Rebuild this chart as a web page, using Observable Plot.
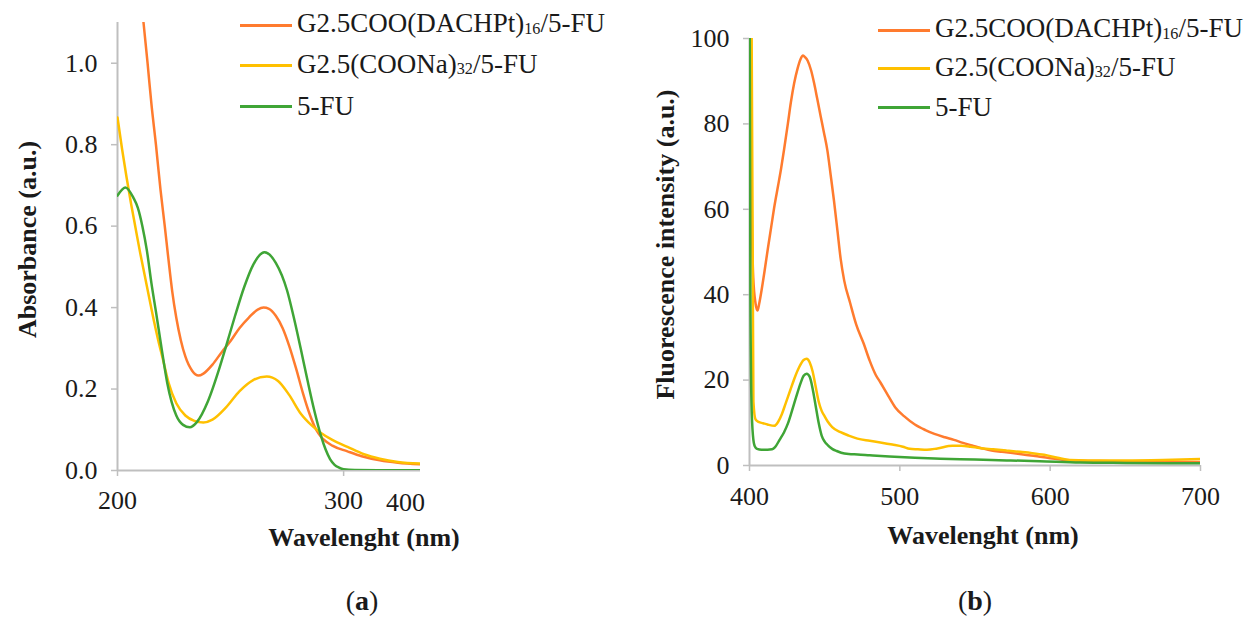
<!DOCTYPE html>
<html><head><meta charset="utf-8">
<script src="https://cdn.jsdelivr.net/npm/d3@7"></script>
<script src="https://cdn.jsdelivr.net/npm/@observablehq/plot@0.6"></script>
<style>
html,body{margin:0;padding:0;background:#fff;}
#fig{position:relative;width:1257px;height:621px;overflow:hidden;font-family:"Liberation Serif","Times New Roman",Times,serif;color:#1a1a1a;}
#fig svg{position:absolute;top:0;overflow:visible;}
.legend{position:absolute;font-size:27px;z-index:2;}
.legend .row{position:absolute;left:0;display:flex;align-items:center;white-space:nowrap;height:30px;line-height:30px;}
.legend .sw{width:52px;height:3px;margin-right:5px;}
.legend .sub{font-size:0.6em;position:relative;top:0.12em;}
.cap{position:absolute;font-size:28px;transform:translate(-50%,-50%);z-index:2;}
</style></head><body><div id="fig"></div>
<script>
// ---------- series ----------
const seriesNames = ["G2.5COO(DACHPt)16/5-FU", "G2.5(COONa)32/5-FU", "5-FU"];
const legendMain = ["G2.5COO(DACHPt)", "G2.5(COONa)", "5-FU"];
const legendSub = ["16", "32", ""];
const legendTail = ["/5-FU", "/5-FU", ""];
const seriesColors = ["#FF7B2E", "#FFC000", "#3FA536"];

// ---------- panel (a): UV-Vis absorbance ----------
const absWlPt = [209, 211.5, 213.3, 215, 217, 219, 220.9, 222.5, 224.2, 226, 228, 230, 233, 235.8, 238, 242, 246, 250, 254, 258, 262, 264.6, 267, 270, 273, 276, 279, 282, 285, 287, 289, 291, 295, 301.7, 308, 316, 324, 334];
const absPt   = [1.25, 1.1, 1.0, 0.9, 0.8, 0.69, 0.6, 0.52, 0.44, 0.375, 0.32, 0.28, 0.245, 0.233, 0.238, 0.26, 0.29, 0.318, 0.35, 0.375, 0.395, 0.40, 0.397, 0.38, 0.35, 0.305, 0.25, 0.19, 0.138, 0.11, 0.09, 0.077, 0.061, 0.047, 0.035, 0.025, 0.019, 0.015];
const absWlNa = [200, 202, 204, 206, 208, 210, 212, 214, 216, 218, 220, 222.6, 226, 230, 234, 238, 242, 248, 254, 260, 266, 271, 276, 281, 286, 290, 295, 301.7, 309, 316, 324, 334];
const absNa   = [0.867, 0.79, 0.72, 0.655, 0.595, 0.535, 0.48, 0.425, 0.37, 0.32, 0.275, 0.215, 0.165, 0.135, 0.122, 0.118, 0.125, 0.155, 0.195, 0.222, 0.231, 0.22, 0.185, 0.14, 0.11, 0.092, 0.075, 0.058, 0.04, 0.029, 0.021, 0.017];
const absWlFU = [200, 203.5, 207, 209, 211, 213, 215, 217, 219.5, 222, 226, 229, 232, 235, 240, 245, 248, 252, 256, 260, 265, 270, 275, 278, 281, 284, 287, 290, 292, 294, 296, 298, 300, 305, 315, 334];
const absFU   = [0.675, 0.695, 0.67, 0.645, 0.60, 0.54, 0.46, 0.39, 0.30, 0.215, 0.135, 0.112, 0.106, 0.118, 0.17, 0.25, 0.305, 0.38, 0.45, 0.505, 0.536, 0.51, 0.442, 0.375, 0.30, 0.222, 0.148, 0.085, 0.052, 0.028, 0.014, 0.007, 0.003, 0.001, 0.0005, 0.0005];
const absXTicks = [200, 300];
const absXEndLabel = ["400"];
const absYTicks = [0, 0.2, 0.4, 0.6, 0.8, 1.0];
const absXTitle = "Wavelenght (nm)";
const absYTitle = "Absorbance (a.u.)";

// ---------- panel (b): fluorescence ----------
const flWlPt = [400.5, 401.5, 402.5, 404, 405.3, 406.5, 408, 410, 412.3, 414.5, 416.7, 419, 421, 423, 425.5, 427.5, 429.7, 432, 434, 435.6, 437, 438.7, 441, 443, 445, 447.4, 449.5, 451.8, 454, 456.2, 458.5, 460.6, 463, 467, 471, 476, 480, 484, 487, 492, 497, 503, 510, 517, 523, 530, 536, 542, 548, 555, 561, 568, 575, 582, 590, 600, 610, 620, 640, 660, 680, 700];
const flPt   = [110, 60, 44, 38, 36.3, 38, 41, 45.5, 51, 56, 61, 65.5, 69.5, 74, 80, 85, 89.5, 93, 95.2, 96, 95.6, 94.8, 92.5, 89.5, 86, 81.7, 78, 73.8, 68, 62, 55, 48.5, 43.3, 38, 33, 28.5, 24.5, 21.2, 19.5, 16.5, 13.6, 11.5, 9.6, 8.3, 7.4, 6.6, 6.0, 5.3, 4.7, 4.0, 3.5, 3.2, 2.9, 2.6, 2.2, 1.7, 1.3, 1.1, 1.0, 0.9, 0.85, 0.8];
const flWlNa = [401.3, 402, 402.6, 404, 406, 409, 412, 416.5, 419, 421.5, 424, 427, 430, 433, 436, 438, 440, 442, 444, 446, 448, 450, 452, 455, 460.6, 466, 471.8, 480, 487, 495, 502, 506.6, 512, 518, 525, 535, 541, 547, 553, 562, 571, 580, 588, 596, 605, 613, 625, 650, 675, 700];
const flNa   = [110, 60, 15, 10.8, 10.2, 9.9, 9.6, 9.3, 10.2, 12, 14.5, 17.5, 20.5, 23, 24.7, 25, 24.2, 22, 18.5, 15, 12.8, 11.5, 10.3, 9, 7.8, 7, 6.3, 5.8, 5.4, 4.9, 4.4, 3.9, 3.8, 3.7, 4.0, 4.6, 4.6, 4.4, 4.1, 3.8, 3.5, 3.2, 2.9, 2.5, 1.8, 1.3, 1.2, 1.2, 1.3, 1.5];
const flWlFU = [400.1, 400.6, 401.3, 402.3, 403.5, 405, 408, 412, 415, 417, 420, 423, 425.5, 428, 431, 434, 436, 438, 440, 442, 444, 446, 448, 450, 452, 455, 458, 461, 466, 472, 480, 493, 510, 527, 550, 571, 593, 620, 650, 700];
const flFU   = [110, 40, 15, 7, 4.5, 3.9, 3.7, 3.7, 3.8, 4.3, 6, 7.8, 9.8, 12.5, 16, 19.3, 21, 21.5, 20.8, 18, 14, 10, 7, 5.6, 4.8, 3.9, 3.4, 3.0, 2.7, 2.6, 2.4, 2.1, 1.8, 1.6, 1.4, 1.2, 1.0, 0.7, 0.6, 0.5];
const flXTicks = [400, 500, 600, 700];
const flYTicks = [0, 20, 40, 60, 80, 100];
const flXTitle = "Wavelenght (nm)";
const flYTitle = "Fluorescence intensity (a.u.)";

const captions = ["a", "b"];

// ---------- build ----------
const rows = (wl, v, s) => wl.map((w, i) => ({wl: w, v: v[i], s}));
const absRows = [...rows(absWlPt, absPt, seriesNames[0]), ...rows(absWlNa, absNa, seriesNames[1]), ...rows(absWlFU, absFU, seriesNames[2])];
const flRows = [...rows(flWlPt, flPt, seriesNames[0]), ...rows(flWlNa, flNa, seriesNames[1]), ...rows(flWlFU, flFU, seriesNames[2])];

const gray = "#BFBFBF";
const ink = "#1a1a1a";
const font = "'Liberation Serif', 'Times New Roman', Times, serif";
const colorOpt = {domain: seriesNames, range: seriesColors};
const tOpt = {textAnchor: "middle", lineAnchor: "middle", fontSize: 26};

const fig = document.getElementById("fig");

const plotA = Plot.plot({
  width: 640, height: 621,
  marginLeft: 117, marginRight: 220, marginTop: 22, marginBottom: 151,
  style: {fontFamily: font, fontSize: "26px", color: ink, background: "transparent"},
  x: {domain: [200, 334]},
  y: {domain: [0, 1.1]},
  color: colorOpt,
  marks: [
    Plot.axisY(absYTicks, {tickSize: 6, tickPadding: 14, tickFormat: d3.format(".1f"), stroke: gray, strokeWidth: 1.5, fontSize: 26, label: null}),
    Plot.axisX(absXTicks, {tickSize: 6, tickPadding: 14, stroke: gray, strokeWidth: 1.5, fontSize: 26, label: null}),
    Plot.text(absXEndLabel, {...tOpt, frameAnchor: "bottom-right", dx: -15, dy: 32}),
    Plot.ruleX([200], {stroke: gray, strokeWidth: 2}),
    Plot.ruleY([0], {stroke: gray, strokeWidth: 2}),
    Plot.line(absRows, {x: "wl", y: "v", z: "s", stroke: "s", strokeWidth: 2.5, curve: "monotone-x", clip: true}),
    Plot.text([absXTitle], {...tOpt, frameAnchor: "bottom", dx: 95, dy: 67, fontWeight: "bold"}),
    Plot.text([absYTitle], {...tOpt, frameAnchor: "left", rotate: -90, dx: -90, dy: -7, fontWeight: "bold"})
  ]
});
plotA.style.left = "0px";
fig.appendChild(plotA);

const plotB = Plot.plot({
  width: 617, height: 621,
  marginLeft: 109, marginRight: 57, marginTop: 38, marginBottom: 156,
  style: {fontFamily: font, fontSize: "26px", color: ink, background: "transparent"},
  x: {domain: [400, 700]},
  y: {domain: [0, 100]},
  color: colorOpt,
  marks: [
    Plot.axisY(flYTicks, {tickSize: 6, tickPadding: 14, stroke: gray, strokeWidth: 1.5, fontSize: 26, label: null}),
    Plot.axisX(flXTicks, {tickSize: 6, tickPadding: 15, stroke: gray, strokeWidth: 1.5, fontSize: 26, label: null}),
    Plot.ruleX([400], {stroke: gray, strokeWidth: 2}),
    Plot.ruleY([0], {stroke: gray, strokeWidth: 2}),
    Plot.line(flRows, {x: "wl", y: "v", z: "s", stroke: "s", strokeWidth: 2.5, curve: "monotone-x", clip: true}),
    Plot.text([flXTitle], {...tOpt, frameAnchor: "bottom", dx: 8, dy: 70, fontWeight: "bold"}),
    Plot.text([flYTitle], {...tOpt, frameAnchor: "left", rotate: -90, dx: -84, dy: -7.5, fontWeight: "bold"})
  ]
});
plotB.style.left = "640px";
fig.appendChild(plotB);

// ---------- legends ----------
function legend(left, top, spacing) {
  const box = document.createElement("div");
  box.className = "legend";
  box.style.left = left + "px";
  box.style.top = top + "px";
  seriesNames.forEach((name, i) => {
    const r = document.createElement("div");
    r.className = "row";
    r.style.top = (i * spacing - 15) + "px";
    const sw = document.createElement("span");
    sw.className = "sw";
    sw.style.background = seriesColors[i];
    r.appendChild(sw);
    const t = document.createElement("span");
    t.appendChild(document.createTextNode(legendMain[i]));
    if (legendSub[i]) {
      const sb = document.createElement("span");
      sb.className = "sub";
      sb.textContent = legendSub[i];
      t.appendChild(sb);
    }
    t.appendChild(document.createTextNode(legendTail[i]));
    r.appendChild(t);
    box.appendChild(r);
  });
  fig.appendChild(box);
}
legend(240, 25, 40.5);
legend(878, 30, 38.5);

// ---------- captions ----------
[[362, 601], [975, 601]].forEach(([cx, cy], i) => {
  const c = document.createElement("div");
  c.className = "cap";
  c.style.left = cx + "px";
  c.style.top = cy + "px";
  c.innerHTML = "(<b>" + captions[i] + "</b>)";
  fig.appendChild(c);
});
</script></body></html>
